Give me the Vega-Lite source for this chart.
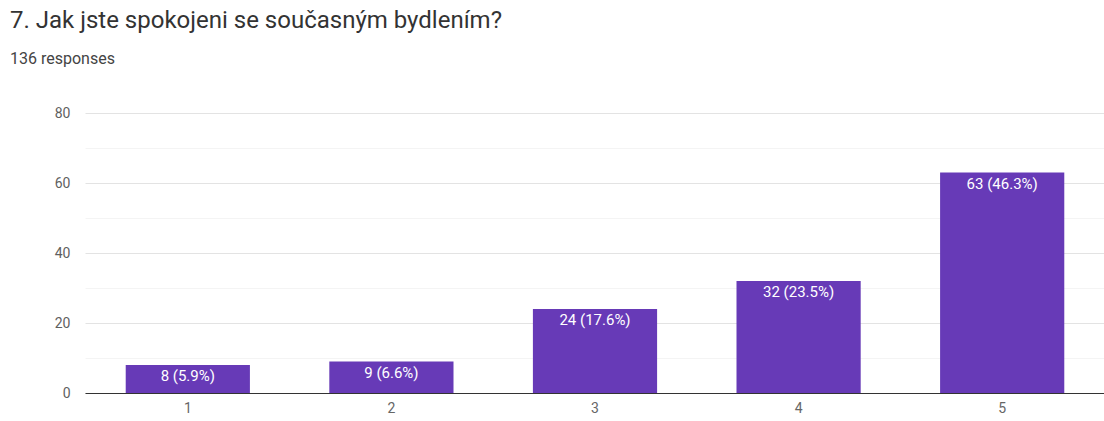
{
  "$schema": "https://vega.github.io/schema/vega-lite/v6.json",
  "autosize": "none",
  "width": 1020,
  "height": 280,
  "padding": {"left": 85, "top": 113, "right": 0, "bottom": 28},
  "background": "white",
  "config": {"font": "Roboto", "view": {"stroke": null}},
  "title": {
    "text": "7. Jak jste spokojeni se současným bydlením?",
    "subtitle": "136 responses",
    "anchor": "start",
    "frame": "group",
    "dx": -75,
    "offset": 39,
    "font": "Roboto",
    "fontSize": 24,
    "fontWeight": "normal",
    "color": "#333333",
    "subtitleFont": "Roboto",
    "subtitleFontSize": 16,
    "subtitleColor": "#444444",
    "subtitlePadding": 18
  },
  "data": {
    "values": [
      {"rating": "1", "count": 8, "label": "8 (5.9%)"},
      {"rating": "2", "count": 9, "label": "9 (6.6%)"},
      {"rating": "3", "count": 24, "label": "24 (17.6%)"},
      {"rating": "4", "count": 32, "label": "32 (23.5%)"},
      {"rating": "5", "count": 63, "label": "63 (46.3%)"}
    ]
  },
  "encoding": {
    "x": {
      "field": "rating",
      "type": "ordinal",
      "title": null,
      "scale": {"paddingInner": 0.39, "paddingOuter": 0.2},
      "axis": {
        "labelAngle": 0,
        "labelColor": "#666666",
        "labelFontSize": 14,
        "labelPadding": 8,
        "ticks": false,
        "domainColor": "#333333",
        "domainWidth": 1.2,
        "grid": false
      }
    },
    "y": {
      "field": "count",
      "type": "quantitative",
      "title": null,
      "scale": {"domain": [0, 80], "nice": false},
      "axis": {
        "values": [0, 10, 20, 30, 40, 50, 60, 70, 80],
        "labelExpr": "datum.value % 20 === 0 ? datum.label : ''",
        "labelColor": "#5f5f5f",
        "labelFontSize": 14,
        "labelPadding": 15,
        "ticks": false,
        "domain": false,
        "gridColor": {"condition": {"test": "datum.value % 20 === 0", "value": "#e3e3e3"}, "value": "#f4f4f4"}
      }
    }
  },
  "layer": [
    {"mark": {"type": "bar", "color": "#673ab7"}},
    {
      "mark": {"type": "text", "baseline": "top", "dy": 4, "color": "white", "fontSize": 15},
      "encoding": {"text": {"field": "label"}}
    }
  ]
}
